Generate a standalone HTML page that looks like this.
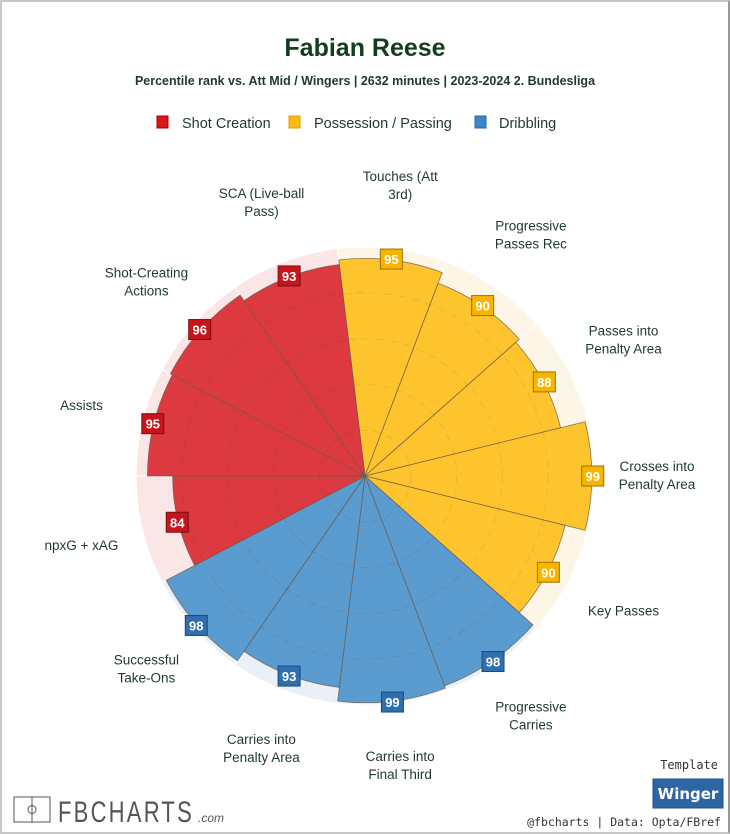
<!DOCTYPE html>
<html><head><meta charset="utf-8"><style>
html,body{margin:0;padding:0;background:#fff}
#wrap{position:relative;width:726px;height:830px;border:2px solid #c8c8c8;border-right-color:#999;background:#fff;font-family:"Liberation Sans",sans-serif;overflow:hidden}
.mono{font-family:"DejaVu Sans Mono",monospace}
.dj{font-family:"DejaVu Sans",sans-serif}
</style></head><body>
<div id="wrap">
<svg id="chart" width="726" height="830" viewBox="2 2 726 830" font-family="Liberation Sans, sans-serif">
<text x="365" y="56" text-anchor="middle" font-size="25" font-weight="bold" fill="#143d1e">Fabian Reese</text>
<text x="365" y="85" text-anchor="middle" font-size="12.5" font-weight="bold" fill="#1e3a2a">Percentile rank vs. Att Mid / Wingers | 2632 minutes | 2023-2024 2. Bundesliga</text>
<g>
<rect x="157" y="116" width="11" height="12" fill="#d7191c" stroke="#a00"/>
<text x="182" y="128" font-size="14.5" fill="#1e3a2a">Shot Creation</text>
<rect x="289" y="116" width="11" height="12" fill="#fdb913" stroke="#e0a000"/>
<text x="314" y="128" font-size="14.5" fill="#1e3a2a">Possession / Passing</text>
<rect x="475" y="116" width="11" height="12" fill="#3a86c8" stroke="#2a6aa8"/>
<text x="499" y="128" font-size="14.5" fill="#1e3a2a">Dribbling</text>
</g>
<g id="pie"></g>
<g>
<rect x="14" y="797" width="36" height="25" fill="none" stroke="#555" stroke-width="1"/>
<line x1="32" y1="797" x2="32" y2="822" stroke="#555"/>
<circle cx="32" cy="809.5" r="4" fill="none" stroke="#555"/>
<text x="58" y="822" font-size="30" fill="#555" letter-spacing="3" textLength="136" lengthAdjust="spacingAndGlyphs">FBCHARTS</text>
<text x="198" y="822" font-size="12" fill="#555" font-style="italic">.com</text>
<text class="mono" x="718" y="769" text-anchor="end" font-size="12" fill="#333">Template</text>
<rect x="653" y="779" width="70" height="29" fill="#2e66a3" stroke="#1e4f86"/>
<text class="dj" x="688" y="799" text-anchor="middle" font-size="15" font-weight="bold" fill="#fff">Winger</text>
<text class="mono" x="721" y="826" text-anchor="end" font-size="11.5" fill="#333">@fbcharts | Data: Opta/FBref</text>
</g>
</svg>
</div>
<script>
const categories = ["Touches (Att|3rd)","Progressive|Passes Rec","Passes into|Penalty Area","Crosses into|Penalty Area","Key Passes","Progressive|Carries","Carries into|Final Third","Carries into|Penalty Area","Successful|Take-Ons","npxG + xAG","Assists","Shot-Creating|Actions","SCA (Live-ball|Pass)"];
const values = [95,90,88,99,90,98,99,93,98,84,95,96,93];
const groups = ["pos","pos","pos","pos","pos","drb","drb","drb","drb","sc","sc","sc","sc"];
const ringLevels = [20,40,60,80];

const CX=365, CY=476, R=229, LR=292, START=-6.92;
const fill={sc:"#dc3a40",pos:"#fec42e",drb:"#5a9bd0"};
const bg={sc:"#fae6e6",pos:"#fdf6e6",drb:"#eaf0f6"};
const badge={sc:"#c8141c",pos:"#f8b400",drb:"#2f6faf"};
const badgeStroke={sc:"#7a1010",pos:"#9a7400",drb:"#1e4a7a"};
const NS="http://www.w3.org/2000/svg";
const g=document.getElementById('pie');
const n=categories.length, step=360/n;
function rScale(v){return R*v/100;}
function pt(r,deg){const a=deg*Math.PI/180;return [CX+r*Math.sin(a),CY-r*Math.cos(a)];}
function wedge(r,a0,a1){const p0=pt(r,a0),p1=pt(r,a1);return `M${CX},${CY}L${p0[0]},${p0[1]}A${r},${r} 0 0 1 ${p1[0]},${p1[1]}Z`;}
function mk(tag,attrs){const e=document.createElementNS(NS,tag);for(const k in attrs)e.setAttribute(k,attrs[k]);return e;}
for(let i=0;i<n;i++){
  const a0=START+i*step,a1=a0+step,gr=groups[i];
  const b=mk('path',{d:wedge(R,a0,a1),fill:bg[gr],stroke:"#fff","stroke-width":1});
  
  
  g.appendChild(b);
}
for(let i=0;i<n;i++){
  const a0=START+i*step,a1=a0+step,gr=groups[i];
  const s=mk('path',{d:wedge(rScale(values[i]),a0,a1),fill:fill[gr],stroke:"#6b5a4a","stroke-width":0.8,"stroke-opacity":0.8});
  
  
  g.appendChild(s);
}
ringLevels.forEach(l=>{
  const c=mk('circle',{cx:CX,cy:CY,r:rScale(l),fill:"none",stroke:"#000","stroke-opacity":0.07,"stroke-dasharray":"8 6"});
  
  
  g.appendChild(c);
});
for(let i=0;i<n;i++){
  const mid=START+(i+0.5)*step,gr=groups[i];
  const p=pt(rScale(values[i])+1,mid);
  const rc=mk('rect',{x:p[0]-11,y:p[1]-10,width:22,height:20,fill:badge[gr],stroke:badgeStroke[gr],"stroke-width":1});
  
  
  g.appendChild(rc);
  const t=mk('text',{x:p[0],y:p[1]+5,"text-anchor":"middle","font-size":13,"font-weight":"bold",fill:"#fff"});
  t.textContent=values[i];
  
  
  g.appendChild(t);
  const lines=categories[i].split('|');
  const lp=pt(LR,mid);
  const lt=mk('text',{x:lp[0],"text-anchor":"middle","font-size":13.5,fill:"#1e3a2a"});
  
  
  lines.forEach((ln,j)=>{
    const ts=mk('tspan',{x:lp[0],y:lp[1]+4+(j-(lines.length-1)/2)*18});
    ts.textContent=ln;lt.appendChild(ts);
  });
  g.appendChild(lt);
}
</script>
</body></html>
